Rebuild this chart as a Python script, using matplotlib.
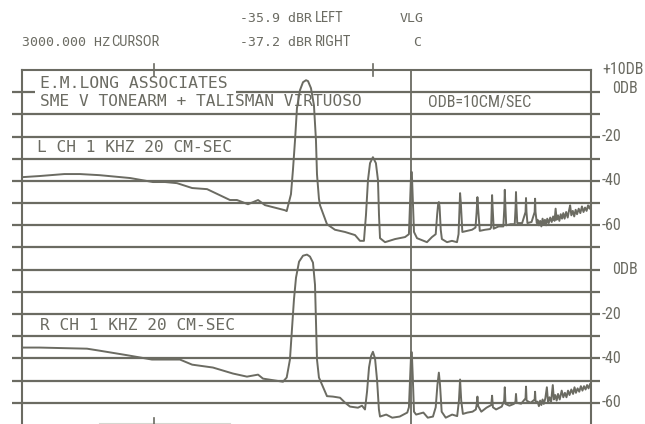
import matplotlib
matplotlib.use("Agg")
import matplotlib.pyplot as plt
from matplotlib.patches import Rectangle

# ---------------------------
# DATA (freq in Hz, level in dB re 10 cm/s)
# ---------------------------
left_freq = [50, 60, 78, 92, 113, 156, 198, 225, 255, 299, 350, 445, 479, 538, 598, 643, 793,
             808, 845, 863, 882, 900, 929, 959, 990, 1011, 1043, 1076, 1099, 1111, 1134, 1147, 1234,
             1342, 1491, 1657, 1746, 1820, 1859, 1899, 1940, 2000, 2064, 2109, 2132, 2155,
             2272, 2523, 2803, 2920, 2960, 2990, 3010, 3040, 3080,
             3180, 3350, 3530, 3720, 3870, 3930, 3970, 4000, 4030, 4080, 4130,
             4360, 4590, 4840, 4920, 4970, 5000, 5040, 5120, 5380, 5670, 5880,
             5950, 6000, 6050, 6150, 6500, 6850, 6930, 6970, 7000, 7040, 7120, 7500, 7880,
             7960, 8000, 8040, 8120, 8500, 8880, 8960, 9000, 9040, 9120, 9600,
             9950, 10000, 10050, 10150, 10600, 10950, 11000, 11050, 11200,
             11300, 11450, 11600, 11750, 11900, 12050, 12200, 12350, 12500, 12700, 12900, 13100,
             13300, 13500, 13650, 13800, 14000, 14200, 14400, 14600, 14800, 15000, 15250, 15500,
             15700, 15900, 16100, 16350, 16600, 16850, 17100, 17400, 17700, 18000, 18300, 18600,
             18900, 19200, 19500, 19800]
left_db = [-38.3, -37.8, -36.9, -36.9, -37.4, -38.7, -40.5, -40.5, -41.0, -43.2, -43.7, -48.6, -48.6, -50.5, -48.6, -50.9, -53.2,
           -53.6, -46.0, -35.0, -21.6, -7.2, 0.9, 4.5, 5.4, 5.0, 1.8, -5.9, -21.6, -37.0, -48.0, -51.0, -59.5,
           -62.0, -63.0, -64.4, -67.0, -67.0, -55.4, -39.6, -32.0, -29.3, -32.0, -39.6, -55.4, -65.8,
           -67.6, -66.2, -65.3, -64.0, -48.0, -36.0, -36.0, -48.0, -63.0,
           -65.8, -66.7, -67.6, -65.3, -64.0, -55.0, -50.5, -49.5, -51.5, -62.0, -66.2,
           -67.6, -67.0, -67.6, -64.0, -52.0, -45.5, -50.0, -63.0, -62.5, -62.0, -61.0,
           -54.0, -47.3, -53.0, -62.5, -62.0, -61.7, -61.0, -53.0, -46.4, -52.0, -61.5, -60.5, -60.5,
           -52.0, -44.0, -50.0, -60.0, -59.5, -59.5, -52.0, -45.0, -51.0, -59.0, -59.0,
           -54.0, -47.7, -54.0, -59.0, -58.5, -54.0, -48.0, -54.0, -59.0,
           -57.5, -60.0, -58.0, -60.5, -57.0, -59.5, -57.5, -60.0, -57.0, -59.0, -56.5, -58.5,
           -56.0, -58.0, -52.5, -57.5, -55.5, -58.0, -55.0, -57.0, -54.5, -57.0, -54.0, -56.5,
           -53.5, -51.0, -55.5, -53.5, -56.0, -53.0, -55.0, -52.5, -54.5, -51.5, -54.0, -52.0,
           -53.5, -51.0, -52.5, -50.5]

right_freq = [50, 60, 99, 113, 150, 196, 263, 299, 372, 459, 532, 598, 630, 777, 808,
              836, 854, 872, 891, 920, 959, 1000, 1032, 1065, 1088, 1099, 1111, 1134, 1171, 1234,
              1314, 1415, 1491, 1571, 1709, 1783, 1840,
              1880, 1920, 1960, 2000, 2045, 2090, 2130, 2155,
              2300, 2450, 2650, 2870, 2920, 2960, 2990, 3010, 3040, 3080,
              3150, 3400, 3560, 3760, 3870, 3940, 4000, 4050, 4120,
              4300, 4600, 4850, 4940, 5000, 5060, 5150, 5400, 5700, 5900,
              5950, 6000, 6050, 6250, 6600, 6940, 7000, 7060, 7300, 7750,
              7950, 8000, 8060, 8400, 8800, 8950, 9000, 9060, 9500,
              9950, 10000, 10060, 10500, 10950, 11000, 11060,
              11300, 11450, 11600, 11750, 11900, 12050, 12250, 12450, 12600, 12800, 13000, 13250,
              13400, 13600, 13800, 14000, 14250, 14550, 14800, 15050, 15300, 15550, 15800, 16100,
              16400, 16650, 16900, 17200, 17500, 17800, 18100, 18400, 18700, 19000, 19300, 19600,
              19800]
right_db = [-35.1, -35.1, -35.6, -36.5, -38.5, -40.5, -40.5, -42.8, -44.1, -46.8, -48.2, -47.3, -49.1, -50.5, -48.6,
            -40.5, -27.0, -13.5, -3.6, 3.6, 6.3, 6.8, 5.9, 3.2, -6.8, -22.5, -40.5, -48.6, -51.8, -57.0,
            -57.2, -57.7, -59.9, -61.7, -62.2, -61.3, -63.0,
            -55.0, -44.0, -39.0, -37.0, -40.0, -50.0, -63.0, -66.2,
            -65.3, -66.7, -66.2, -64.4, -62.0, -48.0, -37.2, -37.2, -48.0, -64.0,
            -65.3, -64.4, -66.7, -66.2, -62.0, -52.0, -46.4, -52.0, -64.0,
            -66.7, -65.3, -66.0, -59.0, -49.5, -59.0, -65.0, -64.4, -64.0, -63.0,
            -61.0, -57.2, -61.5, -64.0, -62.2, -61.0, -56.8, -62.0, -63.0, -61.7,
            -59.0, -53.0, -60.5, -61.3, -60.5, -59.5, -56.0, -60.0, -60.4,
            -58.0, -52.7, -59.0, -60.0, -58.5, -55.0, -59.5,
            -59.5, -61.5, -59.0, -61.0, -58.5, -60.5, -58.0, -53.0, -59.5, -57.5, -60.0, -52.0,
            -58.5, -56.5, -59.0, -56.0, -58.5, -54.5, -57.5, -55.5, -57.5, -54.5, -56.5, -54.0,
            -56.0, -53.0, -55.5, -53.5, -55.0, -52.5, -54.5, -52.5, -54.0, -52.0, -53.5, -51.5,
            -52.5]

RIGHT_OFFSET = -80          # right channel drawn 8 divisions lower
grid_levels = list(range(0, -150, -10))
scale_labels = ["+10DB", "0DB", "-20", "-40", "-60", "0DB", "-20", "-40", "-60"]
scale_levels = [10, 0, -20, -40, -60, -80, -100, -120, -140]
CURSOR_HZ = 3000
TICK_HZ = [200, 2000]

INK = "#6b6b62"
W, H = 645, 424
MONO = ["DejaVu Sans Mono"]
NARROW = ["Roboto Condensed", "PT Sans Narrow", "DejaVu Sans"]


def fx(px):
    return px / W


def fy(py):
    return 1 - py / H


fig = plt.figure(figsize=(W / 100, H / 100), dpi=100, facecolor="white")
ax = fig.add_axes([fx(22), fy(425), fx(591) - fx(22), fy(70) - fy(425)])
ax.set_xscale("log")
ax.set_xlim(50, 19800)
ax.set_ylim(-150, 10)
ax.set_facecolor("white")
ax.set_xticks([])
ax.set_yticks([])
ax.minorticks_off()
ax.tick_params(which="both", length=0)
for side in ["left", "right", "top"]:
    ax.spines[side].set_color(INK)
    ax.spines[side].set_linewidth(1.5)
ax.spines["bottom"].set_visible(False)

# horizontal graticule, running a bit past the frame
ytr = ax.get_yaxis_transform()
for lv in grid_levels:
    ax.plot([-0.018, 1.016], [lv, lv], transform=ytr, color=INK, lw=1.6,
            clip_on=False, zorder=1, solid_capstyle="butt")

# faint bottom edge
ax.plot([113, 445], [-149.6, -149.6], color="#d6d6d0", lw=1.5, clip_on=False, zorder=1)

# cursor + frequency tick marks
ax.axvline(CURSOR_HZ, color=INK, lw=1.3, zorder=1)
for f in TICK_HZ:
    ax.plot([f, f], [7.5, 12.5], color=INK, lw=1.2, clip_on=False, zorder=2)
ax.plot([TICK_HZ[0], TICK_HZ[0]], [-147, -150], color=INK, lw=1.2, clip_on=False, zorder=2)

# white box behind the header text hides the 0 dB line there
ax.add_patch(Rectangle((fx(35), fy(97)), fx(236) - fx(35), fy(87) - fy(97),
                       transform=fig.transFigure, facecolor="white", edgecolor="none",
                       zorder=1.5, clip_on=False))

# traces
ax.plot(left_freq, left_db, color=INK, lw=1.4, zorder=3)
ax.plot(right_freq, [v + RIGHT_OFFSET for v in right_db], color=INK, lw=1.4, zorder=3)

# scale labels on the right
for lab, lv in zip(scale_labels, scale_levels):
    py = 70 + (10 - lv) / 160 * 355
    x0 = 612 if lab == "0DB" else 602
    if lab == "0DB" and lv == 0:
        py -= 4
    fig.text(fx(x0), fy(py), lab, family=NARROW, fontsize=11.5, color=INK, va="center", ha="left")

# header readout
fig.text(fx(22), fy(42), "3000.000 HZ", family=MONO, fontsize=9.5, color=INK, va="center")
fig.text(fx(111), fy(42), "CURSOR", family=NARROW, fontsize=10.5, color=INK, va="center")
fig.text(fx(240), fy(18), "-35.9 dBR", family=MONO, fontsize=9.5, color=INK, va="center")
fig.text(fx(315), fy(18), "LEFT", family=NARROW, fontsize=10.5, color=INK, va="center")
fig.text(fx(240), fy(42), "-37.2 dBR", family=MONO, fontsize=9.5, color=INK, va="center")
fig.text(fx(315), fy(42), "RIGHT", family=NARROW, fontsize=10.5, color=INK, va="center")
fig.text(fx(400), fy(18), "VLG", family=MONO, fontsize=9.5, color=INK, va="center")
fig.text(fx(413), fy(42), "C", family=MONO, fontsize=9.5, color=INK, va="center")

# annotations inside the graticule
fig.text(fx(40), fy(83), "E.M.LONG ASSOCIATES", family=MONO, fontsize=11.8, color=INK, va="center")
fig.text(fx(40), fy(101), "SME V TONEARM + TALISMAN VIRTUOSO", family=MONO, fontsize=11.6,
         color=INK, va="center")
fig.text(fx(428), fy(103), "ODB=10CM/SEC", family=NARROW, fontsize=11.5, color=INK, va="center")
fig.text(fx(37), fy(147), "L CH 1 KHZ 20 CM-SEC", family=MONO, fontsize=11.6, color=INK, va="center")
fig.text(fx(40), fy(326), "R CH 1 KHZ 20 CM-SEC", family=MONO, fontsize=11.6, color=INK, va="center")

fig.savefig("out.png", dpi=100, facecolor="white")
